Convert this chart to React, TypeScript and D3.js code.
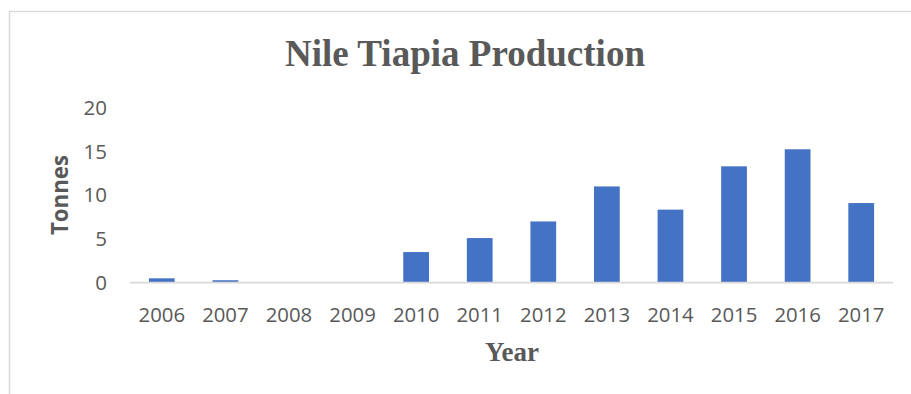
import React from "react";
import * as d3 from "d3";

const years = ["2006", "2007", "2008", "2009", "2010", "2011", "2012", "2013", "2014", "2015", "2016", "2017"];
const tonnes = [0.5, 0.28, 0, 0, 3.5, 5.1, 7.0, 11.0, 8.35, 13.3, 15.25, 9.1];
const yTicks = [0, 5, 10, 15, 20];

const W = 911;
const H = 394;
const left = 130;
const right = 893;
const top = 107.7;
const bottom = 282.7;

export default function App() {
  const x = d3.scaleBand<string>().domain(years).range([left, right]).paddingInner(0.595).paddingOuter(0.2975);
  const y = d3.scaleLinear().domain([0, 20]).range([bottom, top]);
  const textColor = "#595959";
  return (
    <svg width={W} height={H} style={{ position: "absolute", left: 0, top: 0 }}>
      <rect x={0} y={0} width={W} height={H} fill="#ffffff" />
      <path d={`M9.5,${H} V11.5 H${W}`} fill="none" stroke="#d9d9d9" strokeWidth={1.5} />
      <text
        x={465}
        y={66}
        textAnchor="middle"
        fontFamily="'Liberation Serif', 'Times New Roman', serif"
        fontWeight="bold"
        fontSize={37}
        fill={textColor}
        textLength={360}
        lengthAdjust="spacingAndGlyphs"
      >
        Nile Tiapia Production
      </text>
      {yTicks.map((t) => (
        <text
          key={t}
          x={107}
          y={y(t)}
          dy="0.35em"
          textAnchor="end"
          fontFamily="'Open Sans', sans-serif"
          fontSize={20.5}
          fill={textColor}
        >
          {t}
        </text>
      ))}
      {years.map((yr, i) => (
        <rect
          key={yr}
          x={x(yr)!}
          y={y(tonnes[i])}
          width={x.bandwidth()}
          height={bottom - y(tonnes[i])}
          fill="#4472c4"
        />
      ))}
      <line x1={left} x2={right} y1={bottom} y2={bottom} stroke="#d9d9d9" strokeWidth={1.75} />
      {years.map((yr) => (
        <text
          key={yr}
          x={x(yr)! + x.bandwidth() / 2}
          y={321.7}
          textAnchor="middle"
          fontFamily="'Open Sans', sans-serif"
          fontSize={20.5}
          fill={textColor}
          textLength={46.5}
          lengthAdjust="spacingAndGlyphs"
        >
          {yr}
        </text>
      ))}
      <text
        transform={`translate(68,195) rotate(-90)`}
        textAnchor="middle"
        fontFamily="'Open Sans', sans-serif"
        fontWeight="bold"
        fontSize={23}
        fill={textColor}
        textLength={80}
        lengthAdjust="spacingAndGlyphs"
      >
        Tonnes
      </text>
      <text
        x={512}
        y={360.7}
        textAnchor="middle"
        fontFamily="'Liberation Serif', 'Times New Roman', serif"
        fontWeight="bold"
        fontSize={27}
        fill={textColor}
        textLength={54}
        lengthAdjust="spacingAndGlyphs"
      >
        Year
      </text>
    </svg>
  );
}
